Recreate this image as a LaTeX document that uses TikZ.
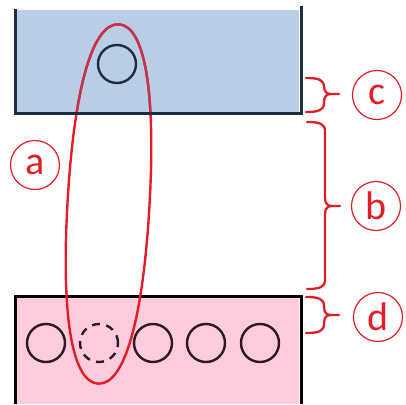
\documentclass[tikz,border=0pt]{standalone}
\usepackage{fontspec}
\setmainfont{Carlito}
\definecolor{tankblue}{RGB}{185,205,228}
\definecolor{tankpink}{RGB}{255,204,222}
\definecolor{navyline}{RGB}{30,44,68}
\definecolor{darkring}{RGB}{45,25,35}
\definecolor{markred}{RGB}{228,28,38}
\definecolor{deepred}{RGB}{192,52,80}
\tikzset{
  wall/.style={line width=3pt, line cap=butt},
  ring/.style={circle, draw=darkring, line width=2.4pt, minimum size=38pt, inner sep=0pt},
  ghostring/.style={ring, dash pattern=on 8pt off 6.4pt},
  loopline/.style={line width=2.4pt, draw=markred},
  bracestyle/.style={draw=markred, line width=2.3pt, line join=round, line cap=round},
  tag/.style={circle, draw=markred, line width=1.2pt, minimum size=49pt, inner sep=0pt,
    text=markred, font=\fontsize{40}{40}\selectfont},
}
% brace: #1 left x, #2 top y, #3 bottom y, #4 middle y
\newcommand\curlybrace[4]{%
  \draw[bracestyle] (#1,#2) .. controls (#1+13,#2) and (#1+18,#2+2) .. (#1+18,#2+9)
    -- (#1+18,#4-8) .. controls (#1+18,#4-2) and (#1+21,#4) .. (#1+25,#4) -- (#1+33,#4);
  \draw[bracestyle] (#1+25,#4) .. controls (#1+21,#4) and (#1+18,#4+2) .. (#1+18,#4+8)
    -- (#1+18,#3-9) .. controls (#1+18,#3-2) and (#1+13,#3) .. (#1,#3);
}
% outline of the loop, in its own axis frame
\newcommand\looppath{%
  (0,-180) .. controls (26,-180) and (41,-115) .. (41,0)
  .. controls (41,115) and (26,180) .. (0,180)
  .. controls (-26,180) and (-41,115) .. (-41,0)
  .. controls (-41,-115) and (-26,-180) .. (0,-180) -- cycle}
\begin{document}
\begin{tikzpicture}[x=1pt,y=-1pt]
\useasboundingbox (0,0) rectangle (406,404);

% lower tank
\fill[tankpink] (16,297) rectangle (299,404);
\draw[wall, draw=black] (15,404) -- (15,296) -- (301,296) -- (301,404);

% upper tank
\fill[tankblue] (16,10) rectangle (299,112);

% the loop
\begin{scope}[shift={(108.5,204)}, rotate=-3.3]
  \draw[loopline] \looppath;
\end{scope}
\begin{scope}
  \clip (16,0) rectangle (299,112);
  \begin{scope}[shift={(108.5,204)}, rotate=-3.3]
    \draw[loopline, draw=deepred] \looppath;
  \end{scope}
\end{scope}

\draw[wall, draw=navyline] (15,9) -- (15,113.5) -- (301,113.5) -- (301,6);

% particles
\node[ring, draw=navyline] (top) at (117,64) {};
\node[ring] (p1) at (46,343) {};
\node[ghostring] (p2) at (99,343) {};
\node[ring] (p3) at (153,343) {};
\node[ring] (p4) at (206,343) {};
\node[ring] (p5) at (260,343) {};

% braces
\curlybrace{306}{78}{112}{94}
\curlybrace{307}{122}{289}{206}
\curlybrace{306}{297}{333}{315}

% labels
\node[tag] (la) at (35,165) {a};
\node[tag] (lc) at (377,95) {c};
\node[tag] (lb) at (376,206) {b};
\node[tag] (ld) at (378,317) {d};
\end{tikzpicture}
\end{document}
